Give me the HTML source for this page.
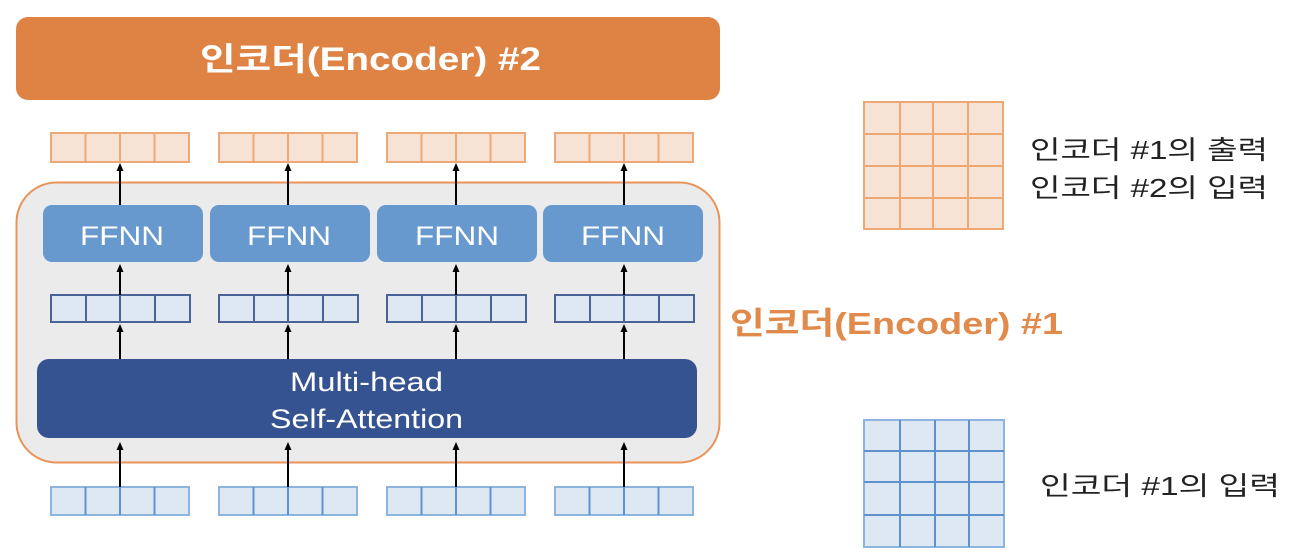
<!DOCTYPE html>
<html><head><meta charset="utf-8"><style>
html,body{margin:0;padding:0;background:#fff;}
svg{display:block;}
text{font-family:"Liberation Sans","Noto Sans CJK KR",sans-serif;}
</style></head><body>
<svg width="1302" height="560" viewBox="0 0 1302 560" xmlns="http://www.w3.org/2000/svg">
<defs>
<marker id="ah" markerWidth="8" markerHeight="8" refX="4" refY="4" orient="auto" markerUnits="userSpaceOnUse">
<path d="M0,0.5 L8,4 L0,7.5 z" fill="#000"/>
</marker>
</defs>
<rect x="16" y="17" width="704" height="83" rx="12" fill="#DF8344"/>
<text x="200" y="70" font-size="32" font-weight="bold" fill="#fff" textLength="341" lengthAdjust="spacingAndGlyphs">인코더(Encoder) #2</text>

<rect x="16.5" y="182.5" width="703" height="280" rx="40" fill="#ebebeb" stroke="#E8935A" stroke-width="2"/>

<g fill="#F7E3D5" stroke="#EDA874" stroke-width="2">
<rect x="51" y="133" width="138" height="29"/><rect x="219" y="133" width="138" height="29"/><rect x="387" y="133" width="138" height="29"/><rect x="555" y="133" width="138" height="29"/>
</g>
<g stroke="#EDA874" stroke-width="2">
<path d="M85.5 133v29M120 133v29M154.5 133v29 M253.5 133v29M288 133v29M322.5 133v29 M421.5 133v29M456 133v29M490.5 133v29 M589.5 133v29M624 133v29M658.5 133v29"/>
</g>
<g fill="#6899CE">
<rect x="43" y="205" width="160" height="57" rx="9"/><rect x="210" y="205" width="160" height="57" rx="9"/><rect x="377" y="205" width="160" height="57" rx="9"/><rect x="543" y="205" width="160" height="57" rx="9"/>
</g>
<g font-size="27" fill="#fff">
<text x="80" y="245" textLength="84" lengthAdjust="spacingAndGlyphs">FFNN</text><text x="247" y="245" textLength="84" lengthAdjust="spacingAndGlyphs">FFNN</text><text x="415" y="245" textLength="84" lengthAdjust="spacingAndGlyphs">FFNN</text><text x="581" y="245" textLength="84" lengthAdjust="spacingAndGlyphs">FFNN</text>
</g>
<g fill="#DEE8F3" stroke="#4A6499" stroke-width="2">
<rect x="51" y="295" width="139" height="27"/><rect x="219" y="295" width="139" height="27"/><rect x="387" y="295" width="139" height="27"/><rect x="555" y="295" width="139" height="27"/>
</g>
<g stroke="#4A6499" stroke-width="2">
<path d="M86 295v27M120 295v27M155 295v27 M254 295v27M288 295v27M323 295v27 M422 295v27M456 295v27M491 295v27 M590 295v27M624 295v27M659 295v27"/>
</g>
<rect x="37" y="359" width="660" height="79" rx="12" fill="#365391"/>
<text x="290" y="391" font-size="27" fill="#fff" textLength="153" lengthAdjust="spacingAndGlyphs">Multi-head</text>
<text x="270" y="428" font-size="27" fill="#fff" textLength="193" lengthAdjust="spacingAndGlyphs">Self-Attention</text>
<g fill="#DEE8F3" stroke="#8DB4DE" stroke-width="2">
<rect x="51" y="487" width="138" height="28"/><rect x="219" y="487" width="138" height="28"/><rect x="387" y="487" width="138" height="28"/><rect x="555" y="487" width="138" height="28"/>
</g>
<g stroke="#5E92CF" stroke-width="2">
<path d="M85.5 487v28M120 487v28M154.5 487v28 M253.5 487v28M288 487v28M322.5 487v28 M421.5 487v28M456 487v28M490.5 487v28 M589.5 487v28M624 487v28M658.5 487v28"/>
</g>
<g stroke="#000" stroke-width="2" marker-end="url(#ah)">
<line x1="120" y1="205" x2="120" y2="167"/><line x1="288" y1="205" x2="288" y2="167"/><line x1="456" y1="205" x2="456" y2="167"/><line x1="624" y1="205" x2="624" y2="167"/>
<line x1="120" y1="295" x2="120" y2="268"/><line x1="288" y1="295" x2="288" y2="268"/><line x1="456" y1="295" x2="456" y2="268"/><line x1="624" y1="295" x2="624" y2="268"/>
<line x1="120" y1="359" x2="120" y2="328"/><line x1="288" y1="359" x2="288" y2="328"/><line x1="456" y1="359" x2="456" y2="328"/><line x1="624" y1="359" x2="624" y2="328"/>
<line x1="120" y1="487" x2="120" y2="446"/><line x1="288" y1="487" x2="288" y2="446"/><line x1="456" y1="487" x2="456" y2="446"/><line x1="624" y1="487" x2="624" y2="446"/>
</g>

<text x="730" y="334" font-size="31" font-weight="bold" fill="#E08A4C" textLength="333" lengthAdjust="spacingAndGlyphs">인코더(Encoder) #1</text>

<rect x="864" y="102" width="139" height="127" fill="#F7E3D5" stroke="#EDA874" stroke-width="2"/>
<g stroke="#EDA874" stroke-width="2">
<path d="M900 102v127M933 102v127M968 102v127M864 134h139M864 166h139M864 198h139"/>
</g>
<text x="1030" y="159" font-size="26" fill="#222" textLength="238" lengthAdjust="spacingAndGlyphs">인코더 #1의 출력</text>
<text x="1030" y="197" font-size="26" fill="#222" textLength="238" lengthAdjust="spacingAndGlyphs">인코더 #2의 입력</text>

<rect x="864" y="420" width="140" height="127" fill="#DEE8F3" stroke="#8DB4DE" stroke-width="2"/>
<g stroke="#5E92CF" stroke-width="2">
<path d="M900 420v127M935 420v127M969 420v127M864 451h140M864 482h140M864 515h140"/>
</g>
<text x="1040" y="495" font-size="26" fill="#222" textLength="240" lengthAdjust="spacingAndGlyphs">인코더 #1의 입력</text>
</svg>
</body></html>
